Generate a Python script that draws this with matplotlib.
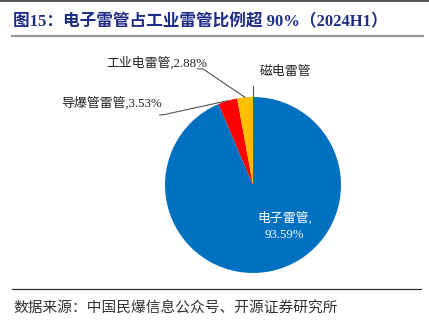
import numpy as np
import matplotlib
matplotlib.use("Agg")
import matplotlib.pyplot as plt
from matplotlib.lines import Line2D

plt.rcParams['font.family'] = ['Liberation Serif', 'Noto Sans CJK SC']

# data (2024H1 share of industrial detonators)
categories = ["电子雷管", "导爆管雷管", "工业电雷管", "磁电雷管"]
shares = [93.59, 3.53, 2.88, 0.0]
show_value = [True, True, True, False]
slice_colors = ["#0070C0", "#FF0000", "#FFC000", "#A5A5A5"]

title = "图15：电子雷管占工业雷管比例超 90%（2024H1）"
source = "数据来源：中国民爆信息公众号、开源证券研究所"

W, H = 429, 323
fig = plt.figure(figsize=(W / 100, H / 100), dpi=100)

# pie axes placed in pixels: centre (253, 185), radius 88
cx, cy, r = 253, 185, 88
ax = fig.add_axes([(cx - r) / W, 1 - (cy + r) / H, 2 * r / W, 2 * r / H])
wedges, _ = ax.pie(shares, colors=slice_colors, startangle=90,
                   counterclock=False, radius=1,
                   wedgeprops=dict(linewidth=0))
ax.set_xlim(-1, 1)
ax.set_ylim(-1, 1)
ax.set_aspect('equal')
ax.axis('off')


def label_text(i):
    if show_value[i]:
        return f"{categories[i]},{shares[i]:.2f}%"
    return categories[i]


def mid_point(w, rad=1.0):
    a = np.deg2rad((w.theta1 + w.theta2) / 2)
    return rad * np.cos(a), rad * np.sin(a)


# inside label for the big slice
x0, y0 = mid_point(wedges[0], 0.5)
ax.text(x0 + 0.26, y0 + 0.02, f"{categories[0]},\n{shares[0]:.2f}%", color="white",
        fontsize=9.3, ha="center", va="center", linespacing=1.4)

# outside labels with leader lines (text pos, elbow pos in data units)
outside = {
    1: dict(text=(-1.61, 0.93), ha="center", path=[(-1.06, 0.795), (-1.01, 0.80)]),
    2: dict(text=(-1.09, 1.39), ha="center", path=[(-0.63, 1.32), (-0.57, 1.32)]),
    3: dict(text=(0.08, 1.28), ha="left", path=[(0.0, 1.13)]),
}
for i, o in outside.items():
    ax.text(o["text"][0], o["text"][1], label_text(i), fontsize=9.3,
            ha=o["ha"], va="center", color="#222222", clip_on=False)
    ex, ey = mid_point(wedges[i], 1.0)
    xs = [p[0] for p in o["path"]] + [ex]
    ys = [p[1] for p in o["path"]] + [ey]
    ax.plot(xs, ys, color="#555555", linewidth=0.8, clip_on=False)

# title, rules and source
fig.add_artist(Line2D([0, 1], [1 - 0.5 / H, 1 - 0.5 / H], color="#333333", linewidth=1.2))
fig.text(13 / W, 1 - 22 / H, title, fontsize=12, fontweight="bold",
         color="#1F2D86", ha="left", va="center")
fig.add_artist(Line2D([12 / W, 423 / W], [1 - 36 / H, 1 - 36 / H], color="#999999", linewidth=1.6))
fig.add_artist(Line2D([12 / W, 421 / W], [1 - 289 / H, 1 - 289 / H], color="#333333", linewidth=0.9))
fig.text(13 / W, 1 - 309 / H, source, fontsize=10.6, color="#333333",
         ha="left", va="center")

fig.savefig("out.png", dpi=100)
